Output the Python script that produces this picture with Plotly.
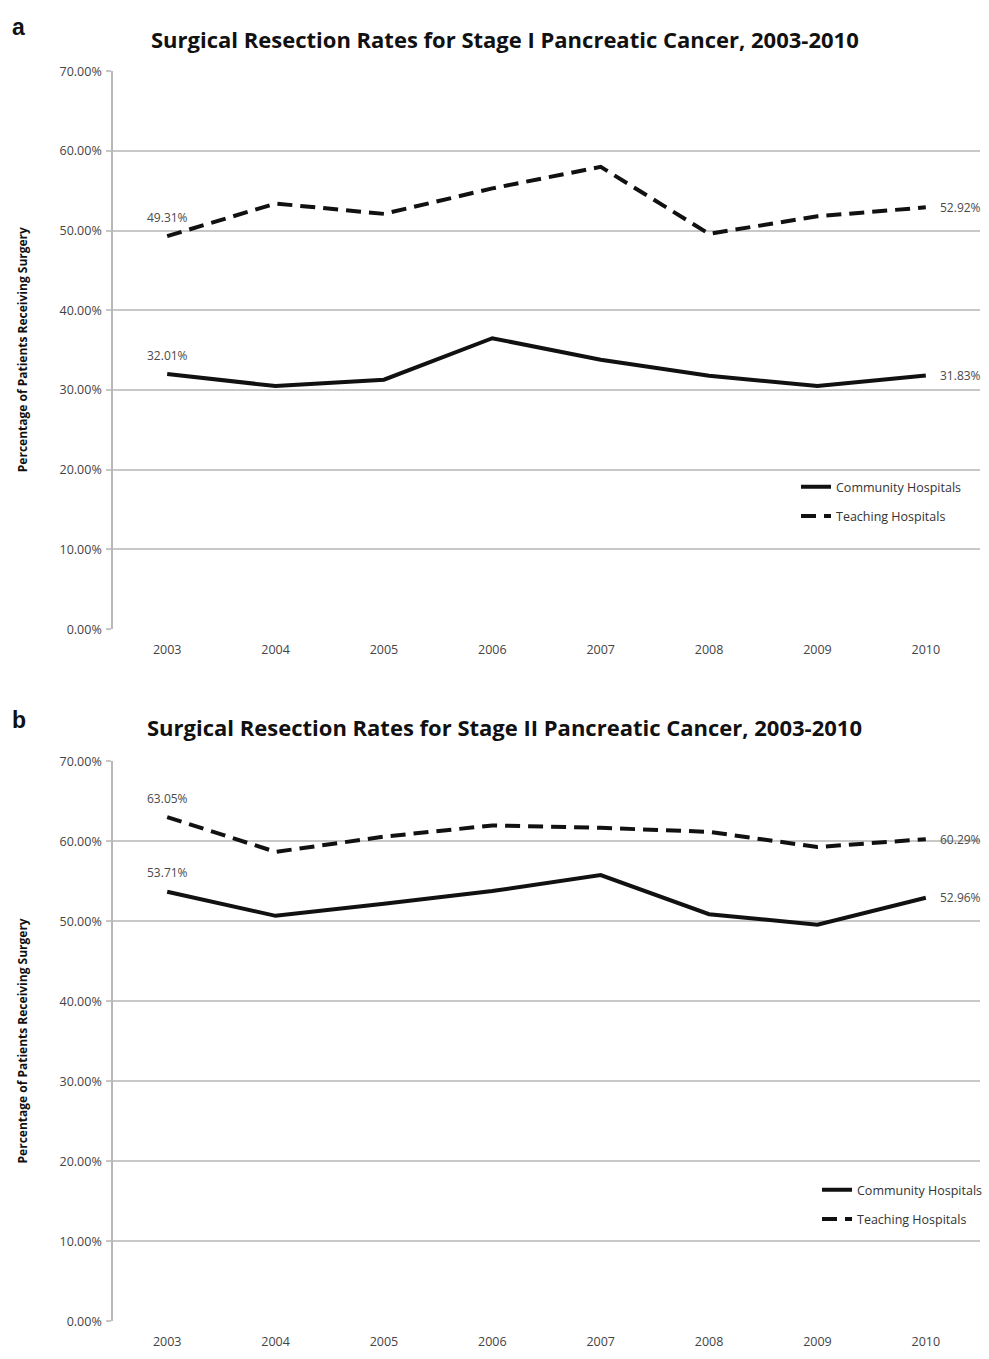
import plotly.graph_objects as go

years = ["2003", "2004", "2005", "2006", "2007", "2008", "2009", "2010"]
y_ticks = [0, 10, 20, 30, 40, 50, 60, 70]
y_tick_labels = ["0.00%", "10.00%", "20.00%", "30.00%", "40.00%", "50.00%", "60.00%", "70.00%"]

stage1_community = [32.01, 30.5, 31.3, 36.5, 33.8, 31.8, 30.5, 31.83]
stage1_teaching = [49.31, 53.4, 52.1, 55.3, 58.0, 49.6, 51.8, 52.92]
stage2_community = [53.71, 50.7, 52.2, 53.8, 55.8, 50.9, 49.6, 52.96]
stage2_teaching = [63.05, 58.7, 60.6, 62.0, 61.7, 61.2, 59.3, 60.29]

titles = ["Surgical Resection Rates for Stage I Pancreatic Cancer, 2003-2010",
          "Surgical Resection Rates for Stage II Pancreatic Cancer, 2003-2010"]
panel_letters = ["a", "b"]
y_title = "Percentage of Patients Receiving Surgery"

W, H = 989, 1359
FONT = "Open Sans"


def px_x(v):
    return v / W


def px_y(v):
    return 1 - v / H


fig = go.Figure()

panels = [
    dict(comm=stage1_community, teach=stage1_teaching, top=63, bottom=628,
         xa="x", ya="y", legend="legend"),
    dict(comm=stage2_community, teach=stage2_teaching, top=762, bottom=1329,
         xa="x2", ya="y2", legend="legend2"),
]

first_idx, last_idx = 0, len(years) - 1
annotations = []
for i, p in enumerate(panels):
    for name, vals, dash, grp in [("Community Hospitals", p["comm"], "solid", "c"),
                                  ("Teaching Hospitals", p["teach"], "15px,8px", "t")]:
        fig.add_trace(go.Scatter(
            x=years, y=vals, name=name, mode="lines",
            line=dict(color="#111111", width=4, dash=dash),
            xaxis=p["xa"], yaxis=p["ya"], legend=p["legend"],
            legendgroup=grp + str(i), hoverinfo="skip",
        ))
        lab_font = dict(family=FONT, size=12, color="#4a4a4a")
        annotations.append(dict(text=f"{vals[first_idx]:.2f}%", x=first_idx, y=vals[first_idx],
                                xref=p["xa"], yref=p["ya"], showarrow=False,
                                xanchor="center", yanchor="middle", yshift=19,
                                font=lab_font))
        annotations.append(dict(text=f"{vals[last_idx]:.2f}%", x=last_idx, y=vals[last_idx],
                                xref=p["xa"], yref=p["ya"], showarrow=False,
                                xanchor="left", yanchor="middle", xshift=12,
                                font=lab_font))

axis_common_x = dict(
    type="category", range=[-0.5, 7.5], showgrid=False, zeroline=False,
    showline=False, ticks="", tickfont=dict(family=FONT, size=12.5, color="#444444"),
    ticklabelstandoff=11, fixedrange=True,
)
axis_common_y = dict(
    range=[0, 70], tickvals=y_ticks, ticktext=y_tick_labels,
    showgrid=True, gridcolor="#c8c8c8", gridwidth=1.5, zeroline=False,
    showline=True, linecolor="#b8b8b8", linewidth=1.5,
    ticks="outside", ticklen=5, tickcolor="#c8c8c8", tickwidth=1.5,
    ticklabelstandoff=2,
    tickfont=dict(family=FONT, size=12.5, color="#444444"), fixedrange=True,
)

xdom = [px_x(113), px_x(980)]
leg_font = dict(family=FONT, size=12.5, color="#333333")
fig.update_layout(
    width=W, height=H, margin=dict(l=0, r=0, t=0, b=0),
    paper_bgcolor="white", plot_bgcolor="white",
    xaxis=dict(domain=xdom, anchor="y", **axis_common_x),
    yaxis=dict(domain=[px_y(628), px_y(63)], anchor="x", **axis_common_y),
    xaxis2=dict(domain=xdom, anchor="y2", **axis_common_x),
    yaxis2=dict(domain=[px_y(1329), px_y(762)], anchor="x2", **axis_common_y),
    legend=dict(x=px_x(796), y=px_y(469), xanchor="left", yanchor="top",
                font=leg_font, bgcolor="rgba(0,0,0,0)",
                traceorder="grouped", tracegroupgap=10),
    legend2=dict(x=px_x(817), y=px_y(1181), xanchor="left", yanchor="top",
                 font=leg_font, bgcolor="rgba(0,0,0,0)",
                 traceorder="grouped", tracegroupgap=10),
    showlegend=True,
)

title_y = [30, 727]
letter_y = [18, 720]
plot_mid = [(63 + 628) / 2, (762 + 1329) / 2]
for i in range(2):
    annotations.append(dict(text=f"<b>{titles[i]}</b>", x=px_x(505), y=px_y(title_y[i]),
                            xref="paper", yref="paper", showarrow=False,
                            xanchor="center", yanchor="middle",
                            font=dict(family=FONT, size=22, color="#111111")))
    annotations.append(dict(text=f"<b>{panel_letters[i]}</b>", x=px_x(10), y=px_y(letter_y[i]),
                            xref="paper", yref="paper", showarrow=False,
                            xanchor="left", yanchor="middle",
                            font=dict(family="Liberation Sans", size=23, color="#111111")))
    annotations.append(dict(text=f"<b>{y_title}</b>", x=px_x(22), y=px_y(plot_mid[i]),
                            xref="paper", yref="paper", showarrow=False, textangle=-90,
                            xanchor="center", yanchor="middle",
                            font=dict(family=FONT, size=12, color="#111111")))
fig.update_layout(annotations=annotations)

fig.write_html(
    "out.html",
    config={"displayModeBar": False},
    post_script="document.body.style.margin='0';document.documentElement.style.overflow='hidden';",
)
